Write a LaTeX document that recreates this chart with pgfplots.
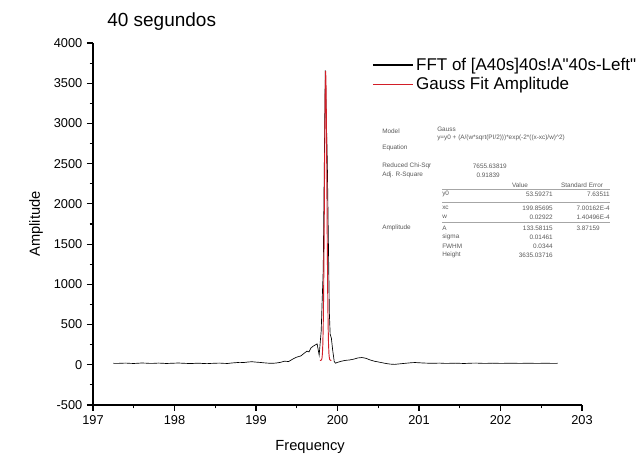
\documentclass[border=0pt]{standalone}
\usepackage{fontspec}
\setmainfont{Liberation Sans}
\newfontfamily\plainsans{Liberation Sans}
\usepackage{pgfplots}
\pgfplotsset{compat=1.18}
\definecolor{fitred}{RGB}{210,30,40}
\begin{document}
\begin{tikzpicture}
\path[use as bounding box] (0,0) rectangle (480pt,347.25pt);
\begin{axis}[
  at={(69.75pt,43.5pt)}, anchor=south west,
  scale only axis, width=366.75pt, height=271.5pt,
  xmin=197, xmax=203, ymin=-500, ymax=4000,
  axis x line*=bottom, axis y line*=left,
  axis line style={line width=0.9pt},
  tick align=outside,
  xtick={197,198,199,200,201,202,203},
  ytick={-500,0,500,1000,1500,2000,2500,3000,3500,4000},
  minor x tick num=1, minor y tick num=1,
  major tick length=4.5pt, minor tick length=2.5pt,
  every tick/.style={line width=0.8pt, black},
  tick label style={font=\fontsize{9.6}{10.5}\selectfont},
  /pgf/number format/assume math mode=true,
  /pgf/number format/set thousands separator={},
  xlabel={Frequency}, ylabel={Amplitude},
  xlabel style={at={(axis description cs:0.444,-0.115)}, anchor=center, font=\fontsize{11}{13}\selectfont},
  ylabel style={at={(axis description cs:-0.1166,0.5)}, anchor=center, font=\fontsize{11}{13}\selectfont},
  legend style={at={(axis description cs:0.5706,0.967)}, anchor=north west, draw=none, fill=none,
    font=\fontsize{12.75}{15.75}\selectfont, inner sep=0pt, cells={anchor=west}},
  legend image code/.code={\draw[#1, line width=0.9pt] (0pt,0pt) -- (30pt,0pt);},
  clip=false,
]
\addplot[black, line width=0.5pt] coordinates {
(197.25,18) (197.30,17) (197.35,19) (197.40,21) (197.45,18) (197.50,16) (197.55,19)
(197.60,22) (197.65,20) (197.70,17) (197.75,18) (197.80,21) (197.85,19) (197.90,16)
(197.95,18) (198.00,20) (198.05,22) (198.10,19) (198.15,17) (198.20,15) (198.25,18)
(198.30,20) (198.35,16) (198.40,14) (198.45,17) (198.50,19) (198.55,21) (198.60,18)
(198.65,16) (198.70,22) (198.75,26) (198.80,30) (198.85,28) (198.90,34) (198.95,38)
(199.00,33) (199.05,29) (199.10,24) (199.15,20) (199.20,18) (199.25,22) (199.30,30)
(199.35,45) (199.40,40) (199.45,70) (199.50,95) (199.55,110) (199.60,150) (199.625,170)
(199.65,160) (199.675,210) (199.70,230) (199.725,245) (199.75,260) (199.775,120)
(199.80,420) (199.81,740) (199.825,1180) (199.85,3660) (199.875,2520) (199.90,650)
(199.91,380) (199.925,330) (199.94,190) (199.96,40) (199.975,20) (200.00,30)
(200.05,45) (200.10,55) (200.15,60) (200.20,70) (200.25,85) (200.30,90) (200.35,80)
(200.40,60) (200.45,45) (200.50,35) (200.55,25) (200.60,15) (200.65,8) (200.70,5)
(200.75,10) (200.80,15) (200.85,20) (200.90,25) (200.95,28) (201.00,25) (201.05,22)
(201.10,20) (201.15,18) (201.20,19) (201.25,21) (201.30,18) (201.35,17) (201.40,19)
(201.45,20) (201.50,18) (201.55,16) (201.60,18) (201.65,20) (201.70,21) (201.75,19)
(201.80,17) (201.85,18) (201.90,20) (201.95,19) (202.00,17) (202.05,18) (202.10,20)
(202.15,19) (202.20,18) (202.25,17) (202.30,19) (202.35,20) (202.40,18) (202.45,17)
(202.50,18) (202.55,19) (202.60,18) (202.65,17) (202.70,18)
};
\addlegendentry{{\plainsans FFT of [A40s]40s!A"40s-Left"}}
\addplot[fitred, line width=0.7pt] coordinates {
(199.785,54) (199.795,55) (199.805,64) (199.810,85) (199.815,138) (199.820,257)
(199.825,489) (199.830,884) (199.835,1461) (199.840,2175) (199.845,2898) (199.850,3445)
(199.855,3650) (199.860,3445) (199.865,2898) (199.870,2175) (199.875,1461) (199.880,884)
(199.885,489) (199.890,257) (199.895,138) (199.900,85) (199.905,64) (199.915,55) (199.925,54)
};
\addlegendentry{Gauss Fit Amplitude}
\end{axis}
\begin{scope}[x=0.75pt, y=-0.75pt, yshift=347.25pt]
\node[anchor=base west, inner sep=0pt, font=\fontsize{14.25}{16}\selectfont] at (107,27) {40 segundos};
\end{scope}
\begin{scope}[x=0.75pt, y=-0.75pt, yshift=347.25pt,
  every node/.style={font=\fontsize{4.8}{5.5}\selectfont, text=black!65, inner sep=0pt}]
\node[anchor=west] at (382,131) {Model};
\node[anchor=west] at (437,129) {Gauss};
\node[anchor=west] at (437,138) {y=y0 + (A/(w*sqrt(PI/2)))*exp(-2*((x-xc)/w)\textasciicircum 2)};
\node[anchor=west] at (382,148) {Equation};
\node[anchor=west] at (382,166) {Reduced Chi-Sqr};
\node[anchor=east] at (507,166) {7655.63819};
\node[anchor=west] at (382,175) {Adj. R-Square};
\node[anchor=east] at (500,175) {0.91839};
\node at (520,185) {Value};
\node at (582,185) {Standard Error};
\draw[black!35, line width=0.3pt] (442,189) -- (610,189);
\node[anchor=west] at (442,194) {y0};
\node[anchor=east] at (553,194) {53.59271};
\node[anchor=east] at (610,194) {7.63511};
\draw[black!35, line width=0.3pt] (442,202) -- (610,202);
\node[anchor=west] at (442,208) {xc};
\node[anchor=east] at (553,208) {199.85695};
\node[anchor=east] at (610,208) {7.00162E-4};
\node[anchor=west] at (442,217) {w};
\node[anchor=east] at (553,217) {0.02922};
\node[anchor=east] at (610,217) {1.40496E-4};
\draw[black!35, line width=0.3pt] (442,222) -- (610,222);
\node[anchor=west] at (382,228) {Amplitude};
\node[anchor=west] at (442,228) {A};
\node[anchor=east] at (553,228) {133.58115};
\node[anchor=east] at (600,228) {3.87159};
\node[anchor=west] at (442,237) {sigma};
\node[anchor=east] at (553,237) {0.01461};
\node[anchor=west] at (442,246) {FWHM};
\node[anchor=east] at (553,246) {0.0344};
\node[anchor=west] at (442,255) {Height};
\node[anchor=east] at (553,255) {3635.03716};
\end{scope}
\end{tikzpicture}
\end{document}
